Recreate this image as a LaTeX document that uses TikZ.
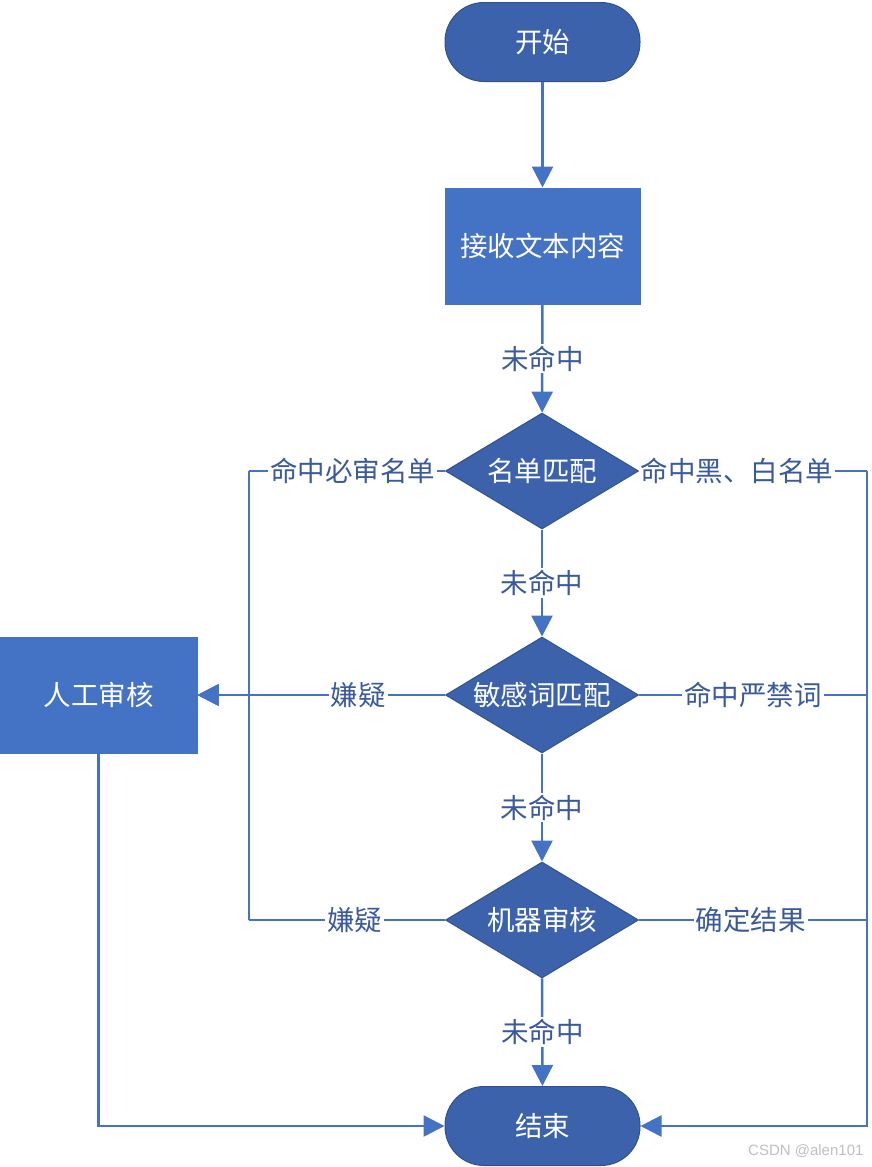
\documentclass[tikz,border=0pt]{standalone}
\usepackage{fontspec}
\newfontfamily\cjk{Noto Sans CJK SC}
\setsansfont{Liberation Sans}
\usetikzlibrary{shapes.geometric,arrows.meta}
\definecolor{termfill}{HTML}{3C62AC}
\definecolor{termdraw}{HTML}{2F528F}
\definecolor{boxfill}{HTML}{4472C4}
\definecolor{linec}{HTML}{4472C4}
\definecolor{lblc}{HTML}{3A5A9C}
\tikzset{
  every node/.style={font=\cjk\fontsize{27.5}{32}\selectfont},
  term/.style={rectangle, rounded corners=39pt, minimum width=195pt, minimum height=79pt, fill=termfill, draw=termdraw, line width=1pt, text=white, inner sep=0pt},
  procbox/.style={rectangle, minimum width=195pt, minimum height=116pt, fill=boxfill, draw=boxfill, line width=1pt, text=white, inner sep=0pt},
  decide/.style={diamond, aspect=1.66, minimum width=193pt, minimum height=116pt, fill=termfill, draw=termdraw, line width=1pt, text=white, inner sep=0pt},
  conn/.style={draw=linec, line width=2.5pt},
  arr/.style={conn, -{Triangle[length=21pt,width=21pt]}},
  lbl/.style={fill=white, text=lblc, inner sep=2pt},
}
\begin{document}
\begin{tikzpicture}[x=1pt,y=-1pt]
\useasboundingbox (0,0) rectangle (871,1167);
\node[term] (start) at (542.5,42) {开始};
\node[procbox] (recv) at (542.5,246) {接收文本内容};
\node[decide] (d1) at (542,471) {名单匹配};
\node[decide] (d2) at (542,695) {敏感词匹配};
\node[decide] (d3) at (542,920) {机器审核};
\node[term] (end) at (542.5,1126) {结束};
\node[procbox, minimum width=197pt] (human) at (98.5,695) {人工审核};
\coordinate (lt) at (249,471);
\coordinate (lb) at (249,920);
\coordinate (rt) at (867,471);
\coordinate (rm) at (867,695);
\coordinate (rb) at (867,920);

\draw[arr] (start) -- (recv);
\draw[arr] (recv) -- node[lbl] (l1) {未命中} (d1);
\draw[arr] (d1) -- node[lbl] (l2) {未命中} (d2);
\draw[arr] (d2) -- node[lbl] (l3) {未命中} (d3);
\draw[arr] (d3) -- node[lbl] (l4) {未命中} (end);

\draw[conn] (d1.west) -- node[lbl, pos=0.47] (l5) {命中必审名单} (lt);
\draw[arr] (lt) |- (human.east);
\draw[conn] (d3.west) -- node[lbl, pos=0.46] (l6) {嫌疑} (lb);
\draw[arr] (lb) |- (human.east);
\draw[arr] (d2.west) -- node[lbl, pos=0.35] (l7) {嫌疑} (human.east);

\draw[conn] (d1.east) -- node[lbl, pos=0.43] (l8) {命中黑、白名单} (rt);
\draw[arr] (rt) |- (end.east);
\draw[conn] (d2.east) -- node[lbl, pos=0.5] (l9) {命中严禁词} (rm);
\draw[conn] (d3.east) -- node[lbl, pos=0.49] (l10) {确定结果} (rb);

\draw[arr] (human.south) |- (end.west);

\node[font=\sffamily\fontsize{15}{18}\selectfont, text=black!25, anchor=east] (wm) at (867,1151) {CSDN @alen101};
\end{tikzpicture}
\end{document}
